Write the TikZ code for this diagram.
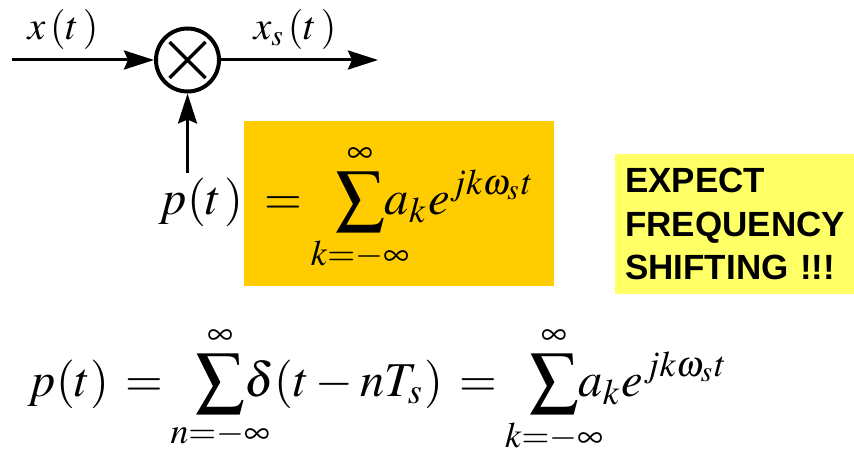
\documentclass[tikz,border=0pt]{standalone}
\usepackage{mathptmx}
\usepackage{mathtools}
\usepackage[no-math]{fontspec}
\newfontfamily\notefont{Liberation Sans}
\usepackage{graphicx}
\usetikzlibrary{arrows.meta, positioning}
\definecolor{sumOrange}{HTML}{FFCC00}
\definecolor{noteYellow}{HTML}{FFFF66}

\begin{document}
\begin{tikzpicture}[x=1pt, y=-1pt,
    sig/.style={line width=3pt, -{Stealth[length=30pt, width=19pt, inset=4pt]}},
    mixer/.style={circle, draw, line width=4pt, minimum size=63pt, inner sep=0pt,
                  path picture={
                    \draw[line width=3.5pt]
                      ([shift={(-18pt,-18pt)}]path picture bounding box.center) --
                      ([shift={(18pt,18pt)}]path picture bounding box.center)
                      ([shift={(-18pt,18pt)}]path picture bounding box.center) --
                      ([shift={(18pt,-18pt)}]path picture bounding box.center);}},
    lbl/.style={inner sep=0pt, font=\fontsize{40}{44}\selectfont},
    eqn/.style={inner sep=0pt, anchor=north west},
    panel/.style={fill=#1, anchor=north west, inner sep=0pt},
  ]
  \useasboundingbox (0,0) rectangle (854,460);

  % multiplier with its three signals
  \node[mixer] (mult) at (187.5,60) {};
  \coordinate (xin) at (12,60);
  \coordinate (xout) at (378,60);
  \coordinate (pin) at (187.5,173);
  \draw[sig] (xin) -- (mult);
  \draw[sig] (mult) -- (xout);
  \draw[sig] (pin) -- (mult);
  \node[lbl] (xlab) at (63,30) {$x\,(t\,)$};
  \node[lbl] (xslab) at (295,30) {$x_s\,(t\,)$};

  % Fourier series of the pulse train
  \node[panel=sumOrange, minimum width=310pt, minimum height=165pt] (fsbox) at (244,121) {};
  \node[eqn] (fseries) at (159,143)
    {\resizebox*{!}{130pt}{$\displaystyle p(t\mkern1mu)\;=\;\;\sum_{\mathclap{k=-\infty}}^{\infty}\! a_k e^{jk\omega_s t}$}};

  \node[panel=noteYellow, minimum width=239pt, minimum height=140pt,
        text width=219pt, inner xsep=10pt, align=left,
        font=\notefont\fontsize{35}{43.5}\selectfont\bfseries] (note) at (615,154)
    {EXPECT\\FREQUENCY\\SHIFTING !!!};

  % impulse train = its Fourier series
  \node[eqn] (sampling) at (28,325)
    {\resizebox*{700pt}{130pt}{$\displaystyle p(t)\,=\;\;\sum_{\mathclap{n=-\infty}}^{\infty}\!\delta(t-nT_s)\,=\;\;\sum_{\mathclap{k=-\infty}}^{\infty}\! a_k e^{jk\omega_s t}$}};
\end{tikzpicture}
\end{document}
